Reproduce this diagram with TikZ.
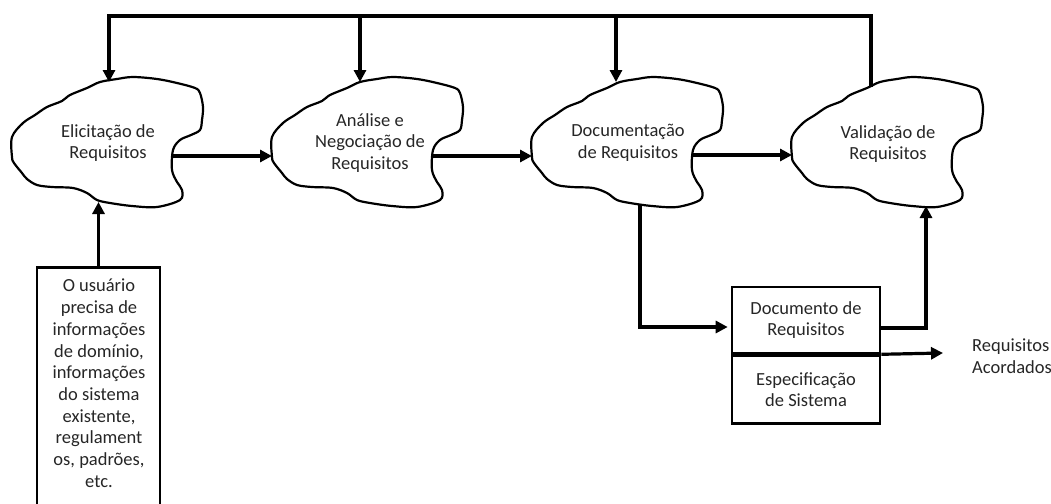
\documentclass[tikz,border=0pt]{standalone}
\usepackage{fontspec}
\setmainfont{Carlito}
\usetikzlibrary{arrows.meta,calc}
\begin{document}
\begin{tikzpicture}[x=1pt,y=-1pt,
  cloudline/.style={draw, line width=2.2pt, line join=round},
  flow/.style={line width=3.2pt, line join=miter, -{Triangle[length=12pt,width=12pt]}},
  lbl/.style={align=center, inner sep=0pt, text=black!85, font=\fontsize{18.5}{21.7}\selectfont},
  boxed/.style={draw, line width=2.6pt, inner sep=0pt},
  blob/.pic={
    \draw[cloudline] plot[smooth cycle, tension=0.55] coordinates {
      (-95,-8) (-84,-22) (-72,-30) (-60,-38) (-45,-44) (-37,-50) (-20,-57)
      (-7,-63) (10,-66) (26,-68) (50,-66) (70,-62) (88,-57) (93,-52)
      (96,-38) (95,-25) (93,-15) (84,-10) (73,-5) (66,5) (65,25)
      (70,37) (75,45) (73,55) (50,62) (25,61) (3,58) (-10,55) (-20,48)
      (-34,43) (-55,42) (-70,40) (-80,34) (-85,28) (-93,18) (-95,12)};
  },
]
\useasboundingbox (0,0) rectangle (1051,503);

% four process clouds
\coordinate (c1) at (107,145);
\coordinate (c2) at (367,145);
\coordinate (c3) at (627,145);
\coordinate (c4) at (887,145);
\pic at (c1) {blob};
\pic at (c2) {blob};
\pic at (c3) {blob};
\pic at (c4) {blob};

\node[lbl] (t1) at (108,143) {Elicitação de\\Requisitos};
\node[lbl] (t2) at (370,143) {Análise e\\Negociação de\\Requisitos};
\node[lbl] (t3) at (628,143) {Documentação\\de Requisitos};
\node[lbl] (t4) at (888,144) {Validação de\\Requisitos};

% input box (runs off the bottom edge)
\node[boxed, minimum width=123pt, minimum height=250pt, anchor=north] (user) at (98.5,266) {};
\node[lbl, anchor=north] (utext) at (99,279)
  {O usuário\\precisa de\\informações\\de domínio,\\informações\\do sistema\\existente,\\regulament\\os, padrões,\\etc.};

% output documents
\node[boxed, lbl, minimum width=148pt, minimum height=66pt] (doc) at (806,320) {Documento de\\Requisitos};
\node[boxed, lbl, minimum width=148pt, minimum height=68pt, anchor=north] (spec) at (doc.south) {Especificação\\de Sistema};
\node[lbl, align=left, anchor=west] (acc) at (972,356) {Requisitos\\Acordados};

% attachment points on the cloud outlines
\coordinate (c1r) at ($(c1)+(66,11)$);
\coordinate (c2l) at ($(c2)+(-95,11)$);
\coordinate (c2r) at ($(c2)+(66,11)$);
\coordinate (c3l) at ($(c3)+(-95,11)$);
\coordinate (c3r) at ($(c3)+(66,10)$);
\coordinate (c4l) at ($(c4)+(-95,10)$);
\coordinate (c1t) at (109,82);
\coordinate (c2t) at (360,82);
\coordinate (c3t) at (616,82);
\coordinate (c4t) at (871,87);
\coordinate (c1b) at (98.5,202);
\coordinate (c3b) at (640,205);
\coordinate (c4b) at (926,206);
\coordinate (fbR) at (871,16);
\coordinate (fbL) at (109,16);
\coordinate (fb2) at (360,16);
\coordinate (fb3) at (616,16);
\coordinate (accTip) at (943,353);

% main flow
\draw[flow] (c1r) -- (c2l);
\draw[flow] (c2r) -- (c3l);
\draw[flow] (c3r) -- (c4l);

% feedback line along the top
\draw[flow] (c4t) -- (fbR) -- (fbL) -- (c1t);
\draw[flow] (fb2) -- (c2t);
\draw[flow] (fb3) -- (c3t);

% input and document connectors
\draw[flow] (user.north) -- (c1b);
\draw[flow] (c3b) |- ($(doc.west)+(-3,7)$);
\draw[flow] ($(doc.east)+(0,8)$) -| (c4b);
\draw[flow] (doc.south east) -- (accTip);
\end{tikzpicture}
\end{document}
